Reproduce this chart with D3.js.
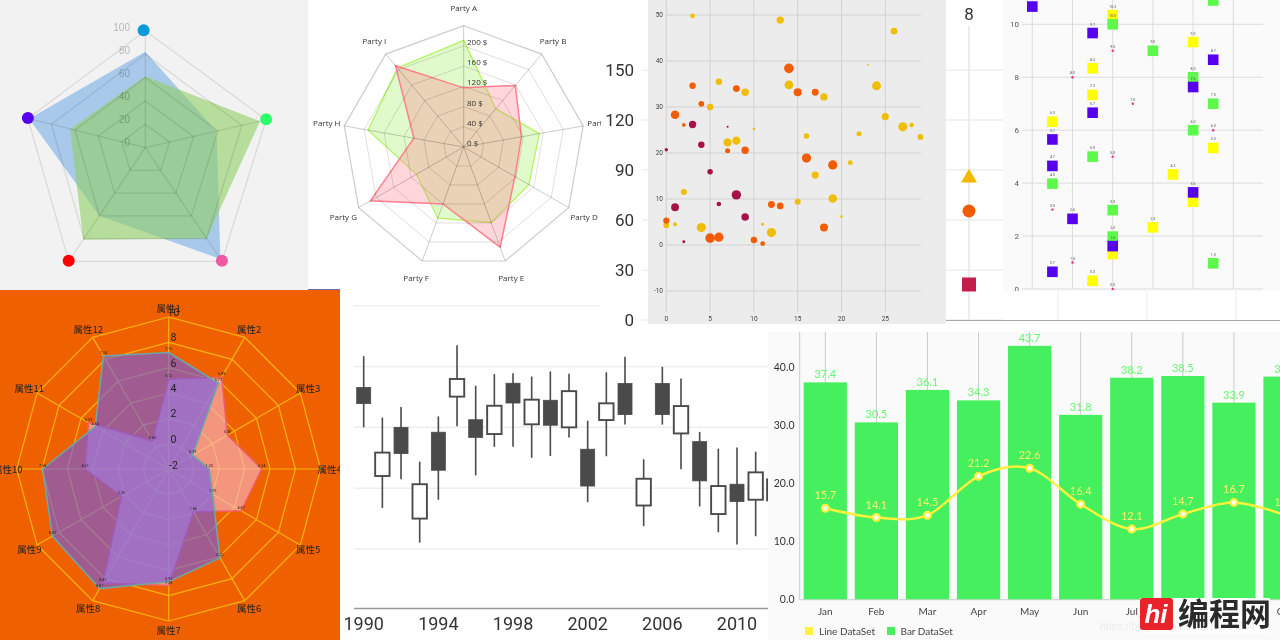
<!DOCTYPE html>
<html><head><meta charset="utf-8">
<style>html,body{margin:0;padding:0;background:#fff}svg{display:block;filter:blur(0.45px)}</style>
<script src="https://cdn.jsdelivr.net/npm/d3@7"></script></head><body>
<svg id="c" width="1280" height="640"></svg>
<script>
// ---------- Panel 1: pentagon radar
const p1Axes=[0,77,146,214,284];
const p1Outer=[117,124,137,137,121];
const p1Ticks=[0,20,40,60,80,100];
const p1Blue=[82,59,98,60,99];
const p1Green=[61,95,80,81,64];
const p1Dots=["#0a9ada","#2cff6a","#f05aa0","#ff0000","#5a00f0"];
// ---------- Panel 2: nonagon radar
const p2Names=["Party A","Party B","Party C","Party D","Party E","Party F","Party G","Party H","Party I"];
const p2Ticks=[0,40,80,120,160,200,240];
const p2Green=[211,99,152,149,159,150,108,192,204];
const p2Red=[117,159,116,117,211,120,213,100,210];
// ---------- Panel 3: bubbles [x,y,r]
const p3Yellow=[[3,49.8,2],[13,48.9,3.2],[26,46.5,3],[6,35.5,2.8],[9,33.2,3.2],[14,34.8,3.8],[18,32.2,3.2],[24,34.6,3.9],[23,39.2,.8],[5,30,2.8],[25,27.9,3.1],[27,25.7,4],[28,26.1,2],[22,24.2,2.2],[16,23.7,2.4],[29,23.5,2.5],[10,25.2,1.2],[7,22.3,3.6],[8,22.7,3.6],[21,17.9,2.1],[17,15.2,3.1],[2,11.5,2.6],[19,10.1,3.7],[15,9.4,2.6],[20,6.2,1.1],[11,4.5,1.3],[1,4.5,1.7],[0,4.3,2.5],[4,3.8,4],[12,2.7,4]];
const p3Orange=[[14,38.4,4.2],[3,34.6,2.8],[8,34,3],[15,33.2,3.5],[17,33.2,3],[4,30.7,2.5],[1,28.3,3.7],[2,26.1,1.6],[7,20.5,2.2],[9,20.6,3.2],[16,18.9,4],[19,17.4,4],[12,8.8,3],[13,8.5,2.9],[0,5.3,2.7],[18,3.8,3.5],[5,1.5,4.2],[6,1.7,4],[10,1.1,2.8],[11,.3,2.1]];
const p3Crimson=[[3,26.2,3.2],[7,25.7,.9],[4,21.8,2.8],[0,20.7,1.5],[5,15.9,2.4],[8,10.9,4.1],[6,8.9,2],[1,8.2,3.4],[9,6.1,3.3],[2,.7,1.3]];
const p3XTicks=[0,5,10,15,20,25];
const p3YTicks=[-10,0,10,20,30,40,50];
const bgYTicks=[0,30,60,90,120,150];
// ---------- Panel 4: square scatter [x,y]
const p4Purple=[[0,10.67],[.5,.65],[.5,4.65],[.5,5.65],[1,2.65],[1.5,6.66],[1.5,9.67],[2,1.62],[4,7.63],[4,3.65],[4.5,8.66]];
const p4Yellow=[[.5,6.32],[1.5,8.34],[1.5,7.33],[1.5,.31],[2,10.35],[2,1.32],[3,2.33],[3.5,4.33],[4,9.33],[4,3.3],[4.5,5.33]];
const p4Green=[[.5,3.98],[1.5,5],[2,10],[2,2.98],[2,1.98],[3,9],[4,8],[4,6],[4.5,7],[4.5,.97],[4.5,10.9]];
const p4Pink=[[.5,3],[1,8],[1,1],[2,9],[2,5],[2,0],[2.5,7],[4.5,6]];
const p4YTicks=[0,2,4,6,8,10];
// ---------- Panel 5: 12-axis radar
const p5Names=["属性1","属性2","属性3","属性4","属性5","属性6","属性7","属性8","属性9","属性10","属性11","属性12"];
const p5Ticks=[-2,0,2,4,6,8,10];
const p5Red=[5.08,6.37,3.35,5.34,4.6,1.9,7.2,8.4,2.3,4.6,5.3,.55];
const p5RedLabels=["5.12","5.89","3.36","6.24","4.67","1.86","7.28","8.47","2.25","4.61","5.33","0.65"];
const p5Teal=[7.2,5.84,.18,1.2,2,6.1,6.9,8.9,8.6,7.95,4.7,8.3];
const p5TealLabels=["7.15","5.77","0.73","1.23","1.75","6.22","6.93","8.87","8.52","7.58","4.64","7.24"];
// ---------- Panel 6: candlesticks
const p6Years=[1990,1991,1992,1993,1994,1995,1996,1997,1998,1999,2000,2001,2002,2003,2004,2005,2006,2007,2008,2009,2010,2011,2012];
const p6High=[83.4,63.2,66.7,48.7,63.6,87,73.7,77.5,77.8,76.7,78.4,77.6,62.2,78.1,83.2,49.5,79.9,76.1,58.5,53,53.4,52,42.9];
const p6Top=[73.1,51.7,60,41.3,58.4,75.9,62.5,67.1,74.5,69.1,68.9,71.9,52.8,67.9,74.4,43.1,74.4,67,55.3,40.7,41.3,45.2,42.9];
const p6Bot=[67.8,44,51.4,30,45.9,70.1,56.7,57.8,68,61,60.7,60,40.7,62.4,64.2,34.3,64.2,58,42.4,31.5,35.6,36.2,36];
const p6Low=[60,33.5,42.9,22.1,36.2,60.4,44.2,53.6,53.6,50,50.6,56.7,35.4,50.5,60.9,27.5,60.9,46.2,34,25.5,21.5,24.2,36];
const p6Filled=[1,0,1,0,1,0,1,0,1,0,1,0,1,0,1,0,1,0,1,0,1,0,0];
const p6Labels=[1990,1994,1998,2002,2006,2010];
const p6Grid=[20,40,60,80,100];
// ---------- Panel 7: bars + line
const p7Months=["Jan","Feb","Mar","Apr","May","Jun","Jul","Aug","Sep","Oct"];
const p7Bars=[37.4,30.5,36.1,34.3,43.7,31.8,38.2,38.5,33.9,38.4];
const p7Line=[15.7,14.1,14.5,21.2,22.6,16.4,12.1,14.7,16.7,14.5];
const p7YTicks=[0,10,20,30,40];

const svg=d3.select("#c");
const defs=svg.append("defs");
function clip(id,x,y,w,h){defs.append("clipPath").attr("id",id).append("rect").attr("x",x).attr("y",y).attr("width",w).attr("height",h);return `url(#${id})`;}
function rect(g,x,y,w,h,f){return g.append("rect").attr("x",x).attr("y",y).attr("width",w).attr("height",h).attr("fill",f);}
function polar(cx,cy,deg,r){const a=deg*Math.PI/180;return [cx+r*Math.sin(a),cy-r*Math.cos(a)];}
const lineClosed=d3.line().curve(d3.curveLinearClosed);
rect(svg,0,0,1280,640,"#fff");

// ===== Panel 6 (bottom layer, overlapped by neighbours)
(function(){
 const g=svg.append("g").attr("clip-path",clip("c6",340,290,428,350));
 const x=d3.scaleLinear().domain([1990,2010]).range([363.7,737]);
 const y=d3.scaleLinear().domain([20,100]).range([549,305.7]);
 g.selectAll(".g6").data(p6Grid).join("line").attr("x1",354).attr("x2",768).attr("y1",d=>y(d)).attr("y2",d=>y(d)).attr("stroke","#eee").attr("stroke-width",1.5);
 g.append("line").attr("x1",354).attr("x2",768).attr("y1",608.5).attr("y2",608.5).attr("stroke","#999").attr("stroke-width",1.5);
 p6Years.forEach((yr,i)=>{
  const cx=x(yr),f=p6Filled[i],w=f?14:14.4;
  g.append("line").attr("x1",cx).attr("x2",cx).attr("y1",y(p6High[i])).attr("y2",y(p6Low[i])).attr("stroke","#4a4a4a").attr("stroke-width",1.6);
  g.append("rect").attr("x",cx-w/2).attr("width",w).attr("y",y(p6Top[i])).attr("height",y(p6Bot[i])-y(p6Top[i]))
   .attr("fill",f?"#4a4a4a":"#fff").attr("stroke","#4a4a4a").attr("stroke-width",f?.8:1.9);
 });
 g.selectAll(".t6").data(p6Labels).join("text").attr("x",d=>x(d)).attr("y",630).attr("text-anchor","middle")
  .attr("font-family","Roboto").attr("font-size",18).attr("fill","#333").text(d=>d);
})();

// ===== Panel 3 background chart + Panel 4 strip
(function(){
 rect(svg,600,0,680,322,"#fff");
 const y=d3.scaleLinear().domain([0,150]).range([320,70]);
 const g=svg.append("g");
 g.selectAll("line.b").data(bgYTicks).join("line").attr("x1",642).attr("x2",1003).attr("y1",d=>y(d)).attr("y2",d=>y(d)).attr("stroke","#eee").attr("stroke-width",1.5);
 g.selectAll("text.b").data(bgYTicks).join("text").attr("x",634).attr("y",d=>y(d)+6).attr("text-anchor","end")
  .attr("font-family","Roboto").attr("font-size",17).attr("fill","#333").text(d=>d);
 g.append("line").attr("x1",969).attr("x2",969).attr("y1",26).attr("y2",320).attr("stroke","#e6e6e6").attr("stroke-width",1.5);
 g.append("text").attr("x",969).attr("y",20).attr("text-anchor","middle").attr("font-family","Roboto").attr("font-size",17).attr("fill","#333").text("8");
 g.append("path").attr("d",d3.symbol(d3.symbolTriangle,110)()).attr("transform","translate(969,178)").attr("fill","#f5b800");
 g.append("circle").attr("cx",969).attr("cy",211).attr("r",6.5).attr("fill","#f25c05");
 g.append("rect").attr("x",962).attr("y",277.5).attr("width",14).attr("height",14).attr("fill","#c2204a");
 [1058,1147,1236].forEach(v=>g.append("line").attr("x1",v).attr("x2",v).attr("y1",291).attr("y2",320).attr("stroke","#eee").attr("stroke-width",1.2));
 g.append("line").attr("x1",946).attr("x2",1280).attr("y1",320.5).attr("y2",320.5).attr("stroke","#aaa").attr("stroke-width",1.2);
})();

// ===== Panel 3 scatter
(function(){
 rect(svg,648,0,298,324,"#ececec");
 const g=svg.append("g").attr("clip-path",clip("c3",648,0,298,324));
 const x=d3.scaleLinear().domain([0,25]).range([666.3,885.3]);
 const y=d3.scaleLinear().domain([0,50]).range([245,15]);
 const rs=d3.scaleLinear().domain([0,4]).range([0,4.6]);
 g.selectAll(".v").data(p3XTicks).join("line").attr("x1",d=>x(d)).attr("x2",d=>x(d)).attr("y1",0).attr("y2",312).attr("stroke","#d2d2d2");
 g.selectAll(".h").data(p3YTicks).join("line").attr("x1",666).attr("x2",921).attr("y1",d=>y(d)).attr("y2",d=>y(d)).attr("stroke","#d2d2d2");
 g.selectAll(".xl").data(p3XTicks).join("text").attr("x",d=>x(d)).attr("y",321).attr("text-anchor","middle").attr("font-family","Roboto").attr("font-size",6.5).attr("fill","#444").text(d=>d);
 g.selectAll(".yl").data(p3YTicks).join("text").attr("x",663).attr("y",d=>y(d)+2).attr("text-anchor","end").attr("font-family","Roboto").attr("font-size",6.5).attr("fill","#444").text(d=>d);
 [[p3Yellow,"#f0be08"],[p3Orange,"#f25c05"],[p3Crimson,"#a8124a"]].forEach(([a,c])=>{
  g.append("g").selectAll("circle").data(a).join("circle").attr("cx",d=>x(d[0])).attr("cy",d=>y(d[1])).attr("r",d=>rs(d[2])).attr("fill",c);
 });
})();

// ===== Panel 4 scatter
(function(){
 rect(svg,1003,0,277,291,"#fafafa");
 const g=svg.append("g").attr("clip-path",clip("c4",1003,0,277,291));
 const x=d3.scaleLinear().domain([0,5]).range([1032.3,1233.3]);
 const y=d3.scaleLinear().domain([0,10]).range([289,24.3]);
 d3.range(0,6).forEach(u=>g.append("line").attr("x1",x(u)).attr("x2",x(u)).attr("y1",0).attr("y2",289).attr("stroke","#dcdcdc"));
 g.selectAll(".h").data(p4YTicks).join("line").attr("x1",1022).attr("x2",1263).attr("y1",d=>y(d)).attr("y2",d=>y(d)).attr("stroke","#dcdcdc");
 g.selectAll(".l").data(p4YTicks).join("text").attr("x",1019).attr("y",d=>y(d)+3).attr("text-anchor","end").attr("font-family","Roboto").attr("font-size",8).attr("fill","#555").text(d=>d);
 [[p4Yellow,"#ffff00"],[p4Green,"#5cf84a"],[p4Purple,"#5500ee"]].forEach(([a,c])=>{
  g.append("g").selectAll("rect").data(a).join("rect").attr("x",d=>x(d[0])-5.3).attr("y",d=>y(d[1])-5.3).attr("width",10.6).attr("height",10.6).attr("fill",c);
 });
 g.append("g").selectAll("circle").data(p4Pink).join("circle").attr("cx",d=>x(d[0])).attr("cy",d=>y(d[1])).attr("r",1.2).attr("fill","#f0288c");
 [p4Yellow,p4Green,p4Purple,p4Pink].forEach((a,k)=>{
  g.append("g").selectAll("text").data(a).join("text").attr("x",d=>x(d[0])).attr("y",d=>y(d[1])-(k==3?3:7.5)).attr("text-anchor","middle")
   .attr("font-family","Roboto").attr("font-size",3.6).attr("fill","#555").text(d=>d[1].toFixed(1));
 });
})();

// ===== Panel 1
(function(){
 rect(svg,0,0,308,290,"#f2f2f2");
 const g=svg.append("g"),cx=145.3,cy=147.7;
 const r=i=>d3.scaleLinear().domain([0,100]).range([0,p1Outer[i]]);
 const pts=vals=>vals.map((v,i)=>polar(cx,cy,p1Axes[i],r(i)(v)));
 g.append("path").attr("d",lineClosed(pts(p1Blue))).attr("fill","#6ea8e6").attr("fill-opacity",.55);
 g.append("path").attr("d",lineClosed(pts(p1Green))).attr("fill","#8fce62").attr("fill-opacity",.6);
 p1Ticks.slice(1).forEach(t=>g.append("path").attr("d",lineClosed(p1Axes.map((a,i)=>polar(cx,cy,a,r(i)(t))))).attr("fill","none").attr("stroke","#000").attr("stroke-opacity",.1).attr("stroke-width",1.3));
 p1Axes.forEach((a,i)=>{const e=polar(cx,cy,a,p1Outer[i]);g.append("line").attr("x1",cx).attr("y1",cy).attr("x2",e[0]).attr("y2",e[1]).attr("stroke","#000").attr("stroke-opacity",.1).attr("stroke-width",1.3);});
 const ty=d3.scaleLinear().domain([0,100]).range([146,31]);
 g.selectAll("text").data(p1Ticks).join("text").attr("x",130).attr("y",d=>ty(d)).attr("text-anchor","end").attr("font-family","Liberation Sans").attr("font-size",10).attr("fill","#000").attr("fill-opacity",.25).text(d=>d);
 p1Dots.forEach((c,i)=>{const e=polar(cx,cy,p1Axes[i],p1Outer[i]);g.append("circle").attr("cx",e[0]-(i==0?1.7:0)).attr("cy",e[1]-.5).attr("r",6).attr("fill",c);});
})();

// ===== Panel 2
(function(){
 rect(svg,308,0,292,290,"#fff");
 rect(svg,308,289,32,1,"#6a6ab8");
 const g=svg.append("g").attr("clip-path",clip("c2",308,0,293,289)),cx=463.7,cy=147;
 const r=d3.scaleLinear().domain([0,240]).range([0,121.3]);
 const ang=p2Names.map((_,i)=>i*40);
 g.append("path").attr("d",lineClosed(p2Green.map((v,i)=>polar(cx,cy,ang[i],r(v))))).attr("fill","#a0f060").attr("fill-opacity",.33).attr("stroke","#b2f55e").attr("stroke-width",1.3);
 g.append("path").attr("d",lineClosed(p2Red.map((v,i)=>polar(cx,cy,ang[i],r(v))))).attr("fill","#ff7885").attr("fill-opacity",.3).attr("stroke","#ff8090").attr("stroke-width",1.5);
 p2Ticks.slice(1).forEach((t,k)=>g.append("path").attr("d",lineClosed(ang.map(a=>polar(cx,cy,a,r(t))))).attr("fill","none").attr("stroke","#000").attr("stroke-opacity",k==5?.2:.13).attr("stroke-width",k==5?1.2:1));
 ang.forEach(a=>{const e=polar(cx,cy,a,r(240));g.append("line").attr("x1",cx).attr("y1",cy).attr("x2",e[0]).attr("y2",e[1]).attr("stroke","#000").attr("stroke-opacity",.2);});
 p2Names.forEach((n,i)=>{const e=polar(cx,cy,ang[i],139);g.append("text").attr("x",e[0]).attr("y",e[1]+3).attr("text-anchor","middle").attr("font-family","Open Sans").attr("font-size",8).attr("fill","#333").text(n);});
 p2Ticks.slice(0,6).forEach(t=>g.append("text").attr("x",467).attr("y",cy-r(t)-1).attr("font-family","Open Sans").attr("font-size",8).attr("fill","#333").text(t+" $"));
})();

// ===== Panel 5
(function(){
 rect(svg,0,290,340,350,"#ef6000");
 const g=svg.append("g").attr("clip-path",clip("c5",0,290,340,350)),cx=168.7,cy=469;
 const r=d3.scaleLinear().domain([-2,10]).range([0,152]);
 const ang=p5Names.map((_,i)=>i*30);
 const pts=v=>v.map((d,i)=>polar(cx,cy,ang[i],r(d)));
 p5Ticks.slice(1).forEach(t=>g.append("path").attr("d",lineClosed(ang.map(a=>polar(cx,cy,a,r(t))))).attr("fill","none").attr("stroke","#f7b30a").attr("stroke-width",1.2));
 ang.forEach(a=>{const e=polar(cx,cy,a,r(10));g.append("line").attr("x1",cx).attr("y1",cy).attr("x2",e[0]).attr("y2",e[1]).attr("stroke","#f7b30a").attr("stroke-width",1.2);});
 g.append("path").attr("d",lineClosed(pts(p5Red))).attr("fill","#f7b7cb").attr("fill-opacity",.62).attr("stroke","#f0606a").attr("stroke-width",1.5);
 g.append("path").attr("d",lineClosed(pts(p5Teal))).attr("fill","#6b59f0").attr("fill-opacity",.6).attr("stroke","#6fa6a6").attr("stroke-width",1.6);
 p5Ticks.forEach(t=>g.append("text").attr("x",173.5).attr("y",cy-r(t)-(t==-2?0:1)).attr("text-anchor","middle").attr("font-family","Roboto").attr("font-size",10.5).attr("fill","#222").text(t));
 p5Names.forEach((n,i)=>{const e=polar(cx,cy,ang[i],161);g.append("text").attr("x",e[0]).attr("y",e[1]+3.5).attr("text-anchor","middle").attr("font-family","Noto Sans CJK SC").attr("font-size",9.5).attr("fill","#222").text(n);});
 [[p5Red,p5RedLabels],[p5Teal,p5TealLabels]].forEach(([v,l])=>l.forEach((t,i)=>{const e=polar(cx,cy,ang[i],r(v[i]));
  g.append("text").attr("x",e[0]).attr("y",e[1]-2).attr("text-anchor","middle").attr("font-family","Roboto").attr("font-size",3.8).attr("fill","#222").text(t);}));
})();

// ===== Panel 7
(function(){
 rect(svg,768,332,512,308,"#fafafa");
 const g=svg.append("g").attr("clip-path",clip("c7",768,332,512,308));
 const x=d3.scaleLinear().domain([0,9]).range([825.3,1285]);
 const y=d3.scaleLinear().domain([0,40]).range([599.3,367.3]);
 g.append("line").attr("x1",799.7).attr("x2",799.7).attr("y1",332).attr("y2",600).attr("stroke","#ccc");
 g.append("line").attr("x1",799.7).attr("x2",1280).attr("y1",599.7).attr("y2",599.7).attr("stroke","#ccc");
 p7Months.forEach((_,i)=>g.append("line").attr("x1",x(i)).attr("x2",x(i)).attr("y1",332).attr("y2",600).attr("stroke","#ccc"));
 g.selectAll(".b").data(p7Bars).join("rect").attr("x",(d,i)=>x(i)-21.6).attr("width",43.2).attr("y",d=>y(d)).attr("height",d=>y(0)-y(d)).attr("fill","#46ef5e");
 g.append("path").datum(p7Line).attr("d",d3.line().x((d,i)=>x(i)).y(d=>y(d)).curve(d3.curveCardinal.tension(0))).attr("fill","none").attr("stroke","#fff13d").attr("stroke-width",2.4);
 g.selectAll(".o").data(p7Line).join("circle").attr("cx",(d,i)=>x(i)).attr("cy",d=>y(d)).attr("r",3.4).attr("fill","#fff").attr("stroke","#fff13d").attr("stroke-width",2.2);
 g.selectAll(".bl").data(p7Bars).join("text").attr("x",(d,i)=>x(i)).attr("y",d=>y(d)-4).attr("text-anchor","middle").attr("font-family","Lato").attr("font-size",11).attr("fill","#66f570").text(d=>d.toFixed(1));
 g.selectAll(".ll").data(p7Line).join("text").attr("x",(d,i)=>x(i)).attr("y",d=>y(d)-9).attr("text-anchor","middle").attr("font-family","Lato").attr("font-size",11).attr("fill","#f6f06a").text(d=>d.toFixed(1));
 g.selectAll(".yt").data(p7YTicks).join("text").attr("x",794.5).attr("y",d=>y(d)+3.6).attr("text-anchor","end").attr("font-family","Lato").attr("font-size",10.5).attr("fill","#333").text(d=>d.toFixed(1));
 g.selectAll(".m").data(p7Months).join("text").attr("x",(d,i)=>x(i)).attr("y",615).attr("text-anchor","middle").attr("font-family","Lato").attr("font-size",10).attr("fill","#444").text(d=>d);
 rect(g,805,627,8,8,"#fff13d");
 g.append("text").attr("x",819).attr("y",634.5).attr("font-family","Lato").attr("font-size",10).attr("fill","#444").text("Line DataSet");
 rect(g,887,627,8,8,"#46ef5e");
 g.append("text").attr("x",900.5).attr("y",634.5).attr("font-family","Lato").attr("font-size",10).attr("fill","#444").text("Bar DataSet");
})();

// ===== Watermark
(function(){
 const g=svg.append("g");
 rect(g,1140,598,130,35,"#fff");
 g.append("text").attr("x",1100).attr("y",630).attr("font-family","Liberation Sans").attr("font-size",10.5).attr("fill","#ececec").text("https://blog.csdn.net/u014644594");
 g.append("rect").attr("x",1140).attr("y",598).attr("width",33).attr("height",32).attr("rx",3).attr("fill","#e8232a");
 g.append("text").attr("x",1156).attr("y",623).attr("text-anchor","middle").attr("font-family","Liberation Sans").attr("font-weight","bold").attr("font-style","italic").attr("font-size",26).attr("fill","#fff").text("hi");
 g.append("text").attr("x",1178).attr("y",625).attr("font-family","Noto Sans CJK SC").attr("font-weight","bold").attr("font-size",31).attr("fill","#2b2b2b").text("编程网");
})();
</script></body></html>
